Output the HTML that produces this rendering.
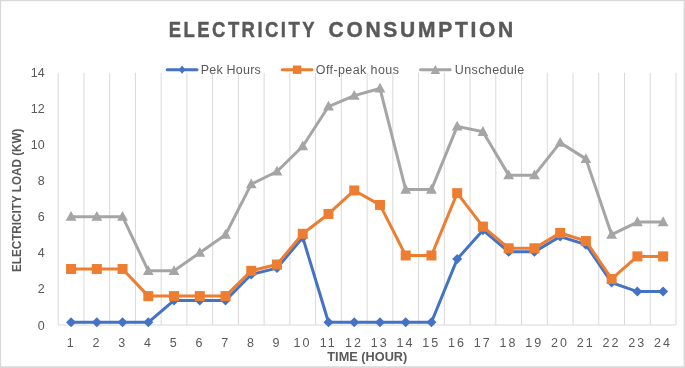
<!DOCTYPE html>
<html><head><meta charset="utf-8"><title>Electricity Consumption</title>
<style>html,body{margin:0;padding:0;background:#fff}svg{display:block;will-change:transform}</style></head>
<body>
<svg width="685" height="368" viewBox="0 0 685 368" font-family="Liberation Sans, sans-serif">
<rect x="0" y="0" width="685" height="368" fill="#fff"/>
<path d="M0 0H685V368H0Z M1.15 1.15V366.35H683.55V1.15Z" fill="#D9D9D9" fill-rule="evenodd"/>
<line x1="58.20" y1="72.7" x2="58.20" y2="325.0" stroke="#D9D9D9" stroke-width="1"/>
<line x1="83.94" y1="72.7" x2="83.94" y2="325.0" stroke="#D9D9D9" stroke-width="1"/>
<line x1="109.68" y1="72.7" x2="109.68" y2="325.0" stroke="#D9D9D9" stroke-width="1"/>
<line x1="135.43" y1="72.7" x2="135.43" y2="325.0" stroke="#D9D9D9" stroke-width="1"/>
<line x1="161.17" y1="72.7" x2="161.17" y2="325.0" stroke="#D9D9D9" stroke-width="1"/>
<line x1="186.91" y1="72.7" x2="186.91" y2="325.0" stroke="#D9D9D9" stroke-width="1"/>
<line x1="212.65" y1="72.7" x2="212.65" y2="325.0" stroke="#D9D9D9" stroke-width="1"/>
<line x1="238.39" y1="72.7" x2="238.39" y2="325.0" stroke="#D9D9D9" stroke-width="1"/>
<line x1="264.13" y1="72.7" x2="264.13" y2="325.0" stroke="#D9D9D9" stroke-width="1"/>
<line x1="289.88" y1="72.7" x2="289.88" y2="325.0" stroke="#D9D9D9" stroke-width="1"/>
<line x1="315.62" y1="72.7" x2="315.62" y2="325.0" stroke="#D9D9D9" stroke-width="1"/>
<line x1="341.36" y1="72.7" x2="341.36" y2="325.0" stroke="#D9D9D9" stroke-width="1"/>
<line x1="367.10" y1="72.7" x2="367.10" y2="325.0" stroke="#D9D9D9" stroke-width="1"/>
<line x1="392.84" y1="72.7" x2="392.84" y2="325.0" stroke="#D9D9D9" stroke-width="1"/>
<line x1="418.58" y1="72.7" x2="418.58" y2="325.0" stroke="#D9D9D9" stroke-width="1"/>
<line x1="444.32" y1="72.7" x2="444.32" y2="325.0" stroke="#D9D9D9" stroke-width="1"/>
<line x1="470.07" y1="72.7" x2="470.07" y2="325.0" stroke="#D9D9D9" stroke-width="1"/>
<line x1="495.81" y1="72.7" x2="495.81" y2="325.0" stroke="#D9D9D9" stroke-width="1"/>
<line x1="521.55" y1="72.7" x2="521.55" y2="325.0" stroke="#D9D9D9" stroke-width="1"/>
<line x1="547.29" y1="72.7" x2="547.29" y2="325.0" stroke="#D9D9D9" stroke-width="1"/>
<line x1="573.03" y1="72.7" x2="573.03" y2="325.0" stroke="#D9D9D9" stroke-width="1"/>
<line x1="598.77" y1="72.7" x2="598.77" y2="325.0" stroke="#D9D9D9" stroke-width="1"/>
<line x1="624.52" y1="72.7" x2="624.52" y2="325.0" stroke="#D9D9D9" stroke-width="1"/>
<line x1="650.26" y1="72.7" x2="650.26" y2="325.0" stroke="#D9D9D9" stroke-width="1"/>
<line x1="676.00" y1="72.7" x2="676.00" y2="325.0" stroke="#D9D9D9" stroke-width="1"/>
<line x1="58.2" y1="325.0" x2="676.0" y2="325.0" stroke="#D9D9D9" stroke-width="1"/>
<text x="44.7" y="329.50" font-size="12.5" fill="#595959" text-anchor="end">0</text>
<text x="44.7" y="293.39" font-size="12.5" fill="#595959" text-anchor="end">2</text>
<text x="44.7" y="257.27" font-size="12.5" fill="#595959" text-anchor="end">4</text>
<text x="44.7" y="221.16" font-size="12.5" fill="#595959" text-anchor="end">6</text>
<text x="44.7" y="185.04" font-size="12.5" fill="#595959" text-anchor="end">8</text>
<text x="44.7" y="148.93" font-size="12.5" fill="#595959" text-anchor="end">10</text>
<text x="44.7" y="112.81" font-size="12.5" fill="#595959" text-anchor="end">12</text>
<text x="44.7" y="76.70" font-size="12.5" fill="#595959" text-anchor="end">14</text>
<text x="70.17" y="346.5" font-size="12.5" fill="#595959" text-anchor="middle" letter-spacing="0">1</text>
<text x="95.91" y="346.5" font-size="12.5" fill="#595959" text-anchor="middle" letter-spacing="0">2</text>
<text x="121.65" y="346.5" font-size="12.5" fill="#595959" text-anchor="middle" letter-spacing="0">3</text>
<text x="147.40" y="346.5" font-size="12.5" fill="#595959" text-anchor="middle" letter-spacing="0">4</text>
<text x="173.14" y="346.5" font-size="12.5" fill="#595959" text-anchor="middle" letter-spacing="0">5</text>
<text x="198.88" y="346.5" font-size="12.5" fill="#595959" text-anchor="middle" letter-spacing="0">6</text>
<text x="224.62" y="346.5" font-size="12.5" fill="#595959" text-anchor="middle" letter-spacing="0">7</text>
<text x="250.36" y="346.5" font-size="12.5" fill="#595959" text-anchor="middle" letter-spacing="0">8</text>
<text x="276.10" y="346.5" font-size="12.5" fill="#595959" text-anchor="middle" letter-spacing="0">9</text>
<text x="302.55" y="346.5" font-size="12.5" fill="#595959" text-anchor="middle" letter-spacing="2.0">10</text>
<text x="328.29" y="346.5" font-size="12.5" fill="#595959" text-anchor="middle" letter-spacing="2.0">11</text>
<text x="354.03" y="346.5" font-size="12.5" fill="#595959" text-anchor="middle" letter-spacing="2.0">12</text>
<text x="379.77" y="346.5" font-size="12.5" fill="#595959" text-anchor="middle" letter-spacing="2.0">13</text>
<text x="405.51" y="346.5" font-size="12.5" fill="#595959" text-anchor="middle" letter-spacing="2.0">14</text>
<text x="431.25" y="346.5" font-size="12.5" fill="#595959" text-anchor="middle" letter-spacing="2.0">15</text>
<text x="457.00" y="346.5" font-size="12.5" fill="#595959" text-anchor="middle" letter-spacing="2.0">16</text>
<text x="482.74" y="346.5" font-size="12.5" fill="#595959" text-anchor="middle" letter-spacing="2.0">17</text>
<text x="508.48" y="346.5" font-size="12.5" fill="#595959" text-anchor="middle" letter-spacing="2.0">18</text>
<text x="534.22" y="346.5" font-size="12.5" fill="#595959" text-anchor="middle" letter-spacing="2.0">19</text>
<text x="559.96" y="346.5" font-size="12.5" fill="#595959" text-anchor="middle" letter-spacing="2.0">20</text>
<text x="585.70" y="346.5" font-size="12.5" fill="#595959" text-anchor="middle" letter-spacing="2.0">21</text>
<text x="611.45" y="346.5" font-size="12.5" fill="#595959" text-anchor="middle" letter-spacing="2.0">22</text>
<text x="637.19" y="346.5" font-size="12.5" fill="#595959" text-anchor="middle" letter-spacing="2.0">23</text>
<text x="662.93" y="346.5" font-size="12.5" fill="#595959" text-anchor="middle" letter-spacing="2.0">24</text>
<text transform="translate(168.8,36.75) scale(0.84,1)" font-size="22" font-weight="bold" fill="#595959" stroke="#595959" stroke-width="0.45" letter-spacing="2.93">ELECTRICITY</text>
<text transform="translate(328.5,36.75) scale(0.9545,1)" font-size="22" font-weight="bold" fill="#595959" stroke="#595959" stroke-width="0.45" letter-spacing="2.86">CONSUMPTION</text>
<text transform="translate(367.3,360.8) scale(1.02,1)" font-size="12.5" font-weight="bold" fill="#595959" text-anchor="middle">TIME (HOUR)</text>
<text transform="translate(21.1,200.3) rotate(-90) scale(0.937,1)" font-size="12.5" font-weight="bold" fill="#595959" text-anchor="middle">ELECTRICITY LOAD (KW)</text>
<polyline points="71.07,322.29 96.81,322.29 122.55,322.29 148.30,322.29 174.04,300.44 199.78,300.44 225.52,300.44 251.26,274.44 277.00,268.12 302.75,237.42 328.49,322.29 354.23,322.29 379.97,322.29 405.71,322.29 431.45,322.29 457.20,259.09 482.94,230.20 508.68,251.87 534.42,251.87 560.16,236.52 585.90,244.65 611.65,282.57 637.39,291.59 663.13,291.59" fill="none" stroke="#4472C4" stroke-width="3" stroke-linejoin="round" stroke-linecap="round"/>
<polygon points="71.07,317.29 76.07,322.29 71.07,327.29 66.07,322.29" fill="#4472C4"/>
<polygon points="96.81,317.29 101.81,322.29 96.81,327.29 91.81,322.29" fill="#4472C4"/>
<polygon points="122.55,317.29 127.55,322.29 122.55,327.29 117.55,322.29" fill="#4472C4"/>
<polygon points="148.30,317.29 153.30,322.29 148.30,327.29 143.30,322.29" fill="#4472C4"/>
<polygon points="174.04,295.44 179.04,300.44 174.04,305.44 169.04,300.44" fill="#4472C4"/>
<polygon points="199.78,295.44 204.78,300.44 199.78,305.44 194.78,300.44" fill="#4472C4"/>
<polygon points="225.52,295.44 230.52,300.44 225.52,305.44 220.52,300.44" fill="#4472C4"/>
<polygon points="251.26,269.44 256.26,274.44 251.26,279.44 246.26,274.44" fill="#4472C4"/>
<polygon points="277.00,263.12 282.00,268.12 277.00,273.12 272.00,268.12" fill="#4472C4"/>
<polygon points="302.75,232.42 307.75,237.42 302.75,242.42 297.75,237.42" fill="#4472C4"/>
<polygon points="328.49,317.29 333.49,322.29 328.49,327.29 323.49,322.29" fill="#4472C4"/>
<polygon points="354.23,317.29 359.23,322.29 354.23,327.29 349.23,322.29" fill="#4472C4"/>
<polygon points="379.97,317.29 384.97,322.29 379.97,327.29 374.97,322.29" fill="#4472C4"/>
<polygon points="405.71,317.29 410.71,322.29 405.71,327.29 400.71,322.29" fill="#4472C4"/>
<polygon points="431.45,317.29 436.45,322.29 431.45,327.29 426.45,322.29" fill="#4472C4"/>
<polygon points="457.20,254.09 462.20,259.09 457.20,264.09 452.20,259.09" fill="#4472C4"/>
<polygon points="482.94,225.20 487.94,230.20 482.94,235.20 477.94,230.20" fill="#4472C4"/>
<polygon points="508.68,246.87 513.68,251.87 508.68,256.87 503.68,251.87" fill="#4472C4"/>
<polygon points="534.42,246.87 539.42,251.87 534.42,256.87 529.42,251.87" fill="#4472C4"/>
<polygon points="560.16,231.52 565.16,236.52 560.16,241.52 555.16,236.52" fill="#4472C4"/>
<polygon points="585.90,239.65 590.90,244.65 585.90,249.65 580.90,244.65" fill="#4472C4"/>
<polygon points="611.65,277.57 616.65,282.57 611.65,287.57 606.65,282.57" fill="#4472C4"/>
<polygon points="637.39,286.59 642.39,291.59 637.39,296.59 632.39,291.59" fill="#4472C4"/>
<polygon points="663.13,286.59 668.13,291.59 663.13,296.59 658.13,291.59" fill="#4472C4"/>
<polyline points="71.07,269.02 96.81,269.02 122.55,269.02 148.30,296.11 174.04,296.11 199.78,296.11 225.52,296.11 251.26,270.83 277.00,264.51 302.75,233.81 328.49,213.95 354.23,190.47 379.97,204.92 405.71,255.48 431.45,255.48 457.20,193.18 482.94,226.59 508.68,248.26 534.42,248.26 560.16,232.91 585.90,241.03 611.65,278.95 637.39,256.38 663.13,256.38" fill="none" stroke="#ED7D31" stroke-width="3" stroke-linejoin="round" stroke-linecap="round"/>
<rect x="66.07" y="264.02" width="10.0" height="10.0" fill="#ED7D31"/>
<rect x="91.81" y="264.02" width="10.0" height="10.0" fill="#ED7D31"/>
<rect x="117.55" y="264.02" width="10.0" height="10.0" fill="#ED7D31"/>
<rect x="143.30" y="291.11" width="10.0" height="10.0" fill="#ED7D31"/>
<rect x="169.04" y="291.11" width="10.0" height="10.0" fill="#ED7D31"/>
<rect x="194.78" y="291.11" width="10.0" height="10.0" fill="#ED7D31"/>
<rect x="220.52" y="291.11" width="10.0" height="10.0" fill="#ED7D31"/>
<rect x="246.26" y="265.83" width="10.0" height="10.0" fill="#ED7D31"/>
<rect x="272.00" y="259.51" width="10.0" height="10.0" fill="#ED7D31"/>
<rect x="297.75" y="228.81" width="10.0" height="10.0" fill="#ED7D31"/>
<rect x="323.49" y="208.95" width="10.0" height="10.0" fill="#ED7D31"/>
<rect x="349.23" y="185.47" width="10.0" height="10.0" fill="#ED7D31"/>
<rect x="374.97" y="199.92" width="10.0" height="10.0" fill="#ED7D31"/>
<rect x="400.71" y="250.48" width="10.0" height="10.0" fill="#ED7D31"/>
<rect x="426.45" y="250.48" width="10.0" height="10.0" fill="#ED7D31"/>
<rect x="452.20" y="188.18" width="10.0" height="10.0" fill="#ED7D31"/>
<rect x="477.94" y="221.59" width="10.0" height="10.0" fill="#ED7D31"/>
<rect x="503.68" y="243.26" width="10.0" height="10.0" fill="#ED7D31"/>
<rect x="529.42" y="243.26" width="10.0" height="10.0" fill="#ED7D31"/>
<rect x="555.16" y="227.91" width="10.0" height="10.0" fill="#ED7D31"/>
<rect x="580.90" y="236.03" width="10.0" height="10.0" fill="#ED7D31"/>
<rect x="606.65" y="273.95" width="10.0" height="10.0" fill="#ED7D31"/>
<rect x="632.39" y="251.38" width="10.0" height="10.0" fill="#ED7D31"/>
<rect x="658.13" y="251.38" width="10.0" height="10.0" fill="#ED7D31"/>
<polyline points="71.07,216.66 96.81,216.66 122.55,216.66 148.30,270.83 174.04,270.83 199.78,252.77 225.52,234.71 251.26,184.15 277.00,171.51 302.75,146.23 328.49,106.51 354.23,95.67 379.97,88.45 405.71,189.57 431.45,189.57 457.20,126.37 482.94,131.79 508.68,175.13 534.42,175.13 560.16,142.62 585.90,158.87 611.65,234.71 637.39,222.07 663.13,222.07" fill="none" stroke="#A5A5A5" stroke-width="3" stroke-linejoin="round" stroke-linecap="round"/>
<polygon points="71.07,210.96 76.47,220.76 65.67,220.76" fill="#A5A5A5"/>
<polygon points="96.81,210.96 102.21,220.76 91.41,220.76" fill="#A5A5A5"/>
<polygon points="122.55,210.96 127.95,220.76 117.15,220.76" fill="#A5A5A5"/>
<polygon points="148.30,265.13 153.70,274.93 142.90,274.93" fill="#A5A5A5"/>
<polygon points="174.04,265.13 179.44,274.93 168.64,274.93" fill="#A5A5A5"/>
<polygon points="199.78,247.07 205.18,256.87 194.38,256.87" fill="#A5A5A5"/>
<polygon points="225.52,229.01 230.92,238.81 220.12,238.81" fill="#A5A5A5"/>
<polygon points="251.26,178.45 256.66,188.25 245.86,188.25" fill="#A5A5A5"/>
<polygon points="277.00,165.81 282.40,175.61 271.60,175.61" fill="#A5A5A5"/>
<polygon points="302.75,140.53 308.15,150.33 297.35,150.33" fill="#A5A5A5"/>
<polygon points="328.49,100.81 333.89,110.61 323.09,110.61" fill="#A5A5A5"/>
<polygon points="354.23,89.97 359.63,99.77 348.83,99.77" fill="#A5A5A5"/>
<polygon points="379.97,82.75 385.37,92.55 374.57,92.55" fill="#A5A5A5"/>
<polygon points="405.71,183.87 411.11,193.67 400.31,193.67" fill="#A5A5A5"/>
<polygon points="431.45,183.87 436.85,193.67 426.05,193.67" fill="#A5A5A5"/>
<polygon points="457.20,120.67 462.60,130.47 451.80,130.47" fill="#A5A5A5"/>
<polygon points="482.94,126.09 488.34,135.89 477.54,135.89" fill="#A5A5A5"/>
<polygon points="508.68,169.43 514.08,179.23 503.28,179.23" fill="#A5A5A5"/>
<polygon points="534.42,169.43 539.82,179.23 529.02,179.23" fill="#A5A5A5"/>
<polygon points="560.16,136.92 565.56,146.72 554.76,146.72" fill="#A5A5A5"/>
<polygon points="585.90,153.17 591.30,162.97 580.50,162.97" fill="#A5A5A5"/>
<polygon points="611.65,229.01 617.05,238.81 606.25,238.81" fill="#A5A5A5"/>
<polygon points="637.39,216.37 642.79,226.17 631.99,226.17" fill="#A5A5A5"/>
<polygon points="663.13,216.37 668.53,226.17 657.73,226.17" fill="#A5A5A5"/>
<line x1="167.2" y1="69.7" x2="197.0" y2="69.7" stroke="#4472C4" stroke-width="3" stroke-linecap="round"/>
<polygon points="182.10,65.60 185.50,69.70 182.10,73.80 178.70,69.70" fill="#4472C4"/>
<text x="200.8" y="73.6" font-size="12.5" fill="#595959" letter-spacing="0.2">Pek Hours</text>
<line x1="282.2" y1="69.7" x2="312.0" y2="69.7" stroke="#ED7D31" stroke-width="3" stroke-linecap="round"/>
<rect x="292.90" y="65.50" width="8.4" height="8.4" fill="#ED7D31"/>
<text x="315.8" y="73.6" font-size="12.5" fill="#595959" letter-spacing="0.4">Off-peak hous</text>
<line x1="420.6" y1="69.7" x2="450.2" y2="69.7" stroke="#A5A5A5" stroke-width="3" stroke-linecap="round"/>
<polygon points="435.40,65.00 440.20,74.00 430.60,74.00" fill="#A5A5A5"/>
<text x="454.8" y="73.6" font-size="12.5" fill="#595959" letter-spacing="0.38">Unschedule</text>
</svg>
</body></html>
